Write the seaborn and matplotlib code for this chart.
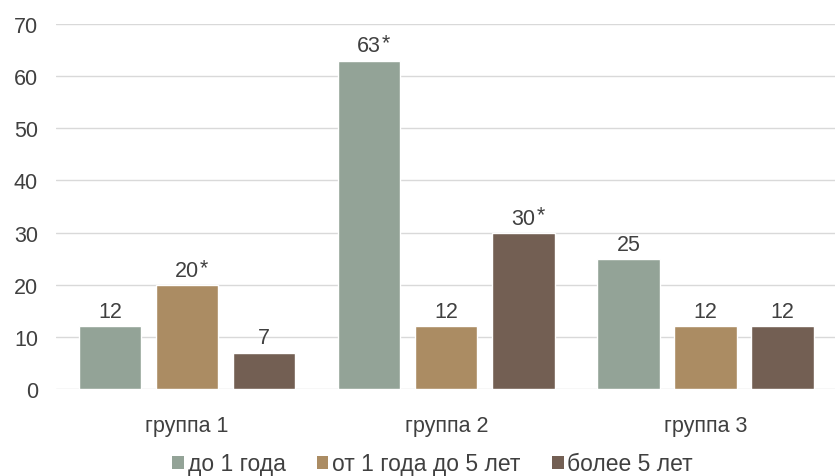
import matplotlib
matplotlib.use("Agg")
import matplotlib.pyplot as plt
import seaborn as sns
import pandas as pd
from matplotlib.patches import Patch

groups = ["группа 1", "группа 2", "группа 3"]
series = ["до 1 года", "от 1 года до 5 лет", "более 5 лет"]
v_lt1 = [12, 63, 25]
v_1to5 = [20, 12, 12]
v_gt5 = [7, 30, 12]
sig_lt1 = [False, True, False]
sig_1to5 = [True, False, False]
sig_gt5 = [False, True, False]
yticks = [0, 10, 20, 30, 40, 50, 60, 70]

colors = ["#93A397", "#AB8C63", "#735F53"]
txt = "#404040"
FS = 15.5
FSL = 16.5

rows = []
for s, vals, sigs in zip(series, [v_lt1, v_1to5, v_gt5], [sig_lt1, sig_1to5, sig_gt5]):
    for g, v, sg in zip(groups, vals, sigs):
        rows.append({"group": g, "series": s, "value": v, "sig": sg})
df = pd.DataFrame(rows)

sns.set_theme(style="white")
plt.rcParams["font.family"] = ["Liberation Sans", "DejaVu Sans"]

fig = plt.figure(figsize=(8.35, 4.77), dpi=100)
ax = fig.add_axes([56/835, 1-390/477, 779/835, 365/477])

sns.barplot(data=df, x="group", y="value", hue="series", order=groups,
            hue_order=series, palette=colors, width=0.892, gap=0.19,
            saturation=1, legend=False, ax=ax)

ax.set_ylim(0, 70)
ax.set_xlim(-0.506, 2.5)
ax.set_yticks(yticks)
ax.grid(axis="y", color="#D9D9D9", linewidth=1)
ax.set_axisbelow(True)
for sp in ax.spines.values():
    sp.set_visible(False)
ax.tick_params(axis="both", length=0, labelsize=FS, labelcolor=txt)
ax.tick_params(axis="y", pad=13)
ax.tick_params(axis="x", pad=19)
ax.set_xlabel("")
ax.set_ylabel("")

fig.canvas.draw()
renderer = fig.canvas.get_renderer()
for cont, s in zip(ax.containers, series):
    sub = df[df["series"] == s].set_index("group").loc[groups]
    for bar, (g, r) in zip(cont, sub.iterrows()):
        cx = bar.get_x() + bar.get_width() / 2
        h = bar.get_height()
        t = ax.annotate(f"{int(r['value'])}", (cx, h), xytext=(0, 9),
                        textcoords="offset pixels", ha="center", va="baseline",
                        fontsize=FS, color=txt)
        if r["sig"]:
            w = t.get_window_extent(renderer).width
            ax.annotate("*", (cx, h), xytext=(w / 2 + 1, 12),
                        textcoords="offset pixels", ha="left", va="baseline",
                        fontsize=FS, color=txt)

handles = [Patch(facecolor=c, edgecolor="none") for c in colors]
fig.legend(handles, series, loc="center", bbox_to_anchor=(432.5/835, 1-465/477),
           ncol=3, frameon=False, fontsize=FSL, labelcolor=txt,
           handlelength=0.52, handleheight=0.52, handletextpad=0.17,
           columnspacing=1.35, borderpad=0, borderaxespad=0)

fig.savefig("out.png", dpi=100)
